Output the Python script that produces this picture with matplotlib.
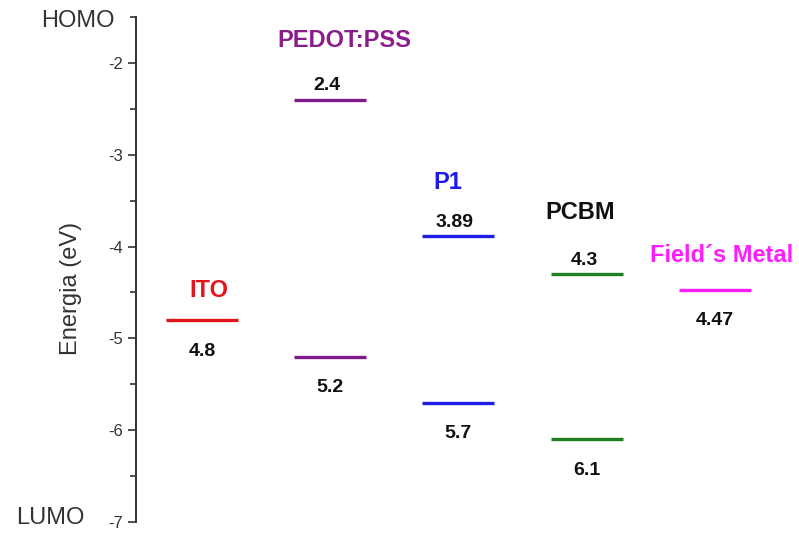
import matplotlib.pyplot as plt
from matplotlib.ticker import MultipleLocator

plt.rcParams['font.family'] = ['Liberation Sans', 'DejaVu Sans']

# Data
materials = ['ITO', 'PEDOT:PSS', 'P1', 'PCBM', 'Field\u00b4s Metal']
homo = [None, 2.4, 3.89, 4.3, None]
lumo = [4.8, 5.2, 5.7, 6.1, 4.47]
level_colors = ['#e3141b', '#7e1a8c', '#1c1ce6', '#1e801e', '#ff1cff']
label_colors = ['#e3141b', '#8a1c8c', '#1c1ce6', '#111111', '#ff1cff']

# layout (x centres in axis units, 1 unit = 100 px)
xpos = [0.66, 1.94, 3.22, 4.51, 5.79]
half = 0.36
name_x = [0.73, 2.08, 3.12, 4.44, 5.86]
name_y = [-4.48, -1.76, -3.30, -3.63, -4.10]

fig = plt.figure(figsize=(7.99, 5.34), dpi=100)
ax = fig.add_axes([136 / 799, 12 / 534, 1 - 136 / 799, 505 / 534])

for x, h, l, c in zip(xpos, homo, lumo, level_colors):
    for v in (h, l):
        if v is not None:
            ax.plot([x - half, x + half], [-v, -v], color=c, lw=2.4, solid_capstyle='butt')

# value labels: upper level above the line, lower level below it
for x, h, l in zip(xpos, homo, lumo):
    if h is not None:
        ax.text(x - 0.03, -h + 0.15, f'{h:g}', ha='center', va='center', fontsize=14, fontweight='bold', color='#111111')
    ax.text(x, -l - 0.34, f'{l:g}', ha='center', va='center', fontsize=14, fontweight='bold', color='#111111')

# material names
for x, n, y, c in zip(name_x, materials, name_y, label_colors):
    ax.text(x, y, n, ha='center', va='center', fontsize=17, fontweight='bold', color=c)

ax.set_xlim(0, 6.63)
ax.set_ylim(-7, -1.5)
ax.set_yticks([-7, -6, -5, -4, -3, -2])
ax.set_yticklabels(['-7', '-6', '-5', '-4', '-3', '-2'])
ax.yaxis.set_minor_locator(MultipleLocator(0.5))
ax.tick_params(axis='y', which='major', length=6, width=1.2, labelsize=12, colors='#333333')
ax.tick_params(axis='y', which='minor', length=4, width=1.2, colors='#333333')
ax.set_xticks([])
for s in ['top', 'right', 'bottom']:
    ax.spines[s].set_visible(False)
ax.spines['left'].set_color('#333333')
ax.spines['left'].set_linewidth(1.4)
ax.set_ylabel('Energia (eV)', fontsize=17, color='#333333')
ax.yaxis.set_label_coords(-0.081, 0.463)

ax.text(-0.21, -1.548, 'HOMO', ha='right', va='center', fontsize=17, color='#333333')
ax.text(-0.51, -6.956, 'LUMO', ha='right', va='center', fontsize=17, color='#333333')
ax.patch.set_visible(False)

fig.savefig('out.png', dpi=100)
